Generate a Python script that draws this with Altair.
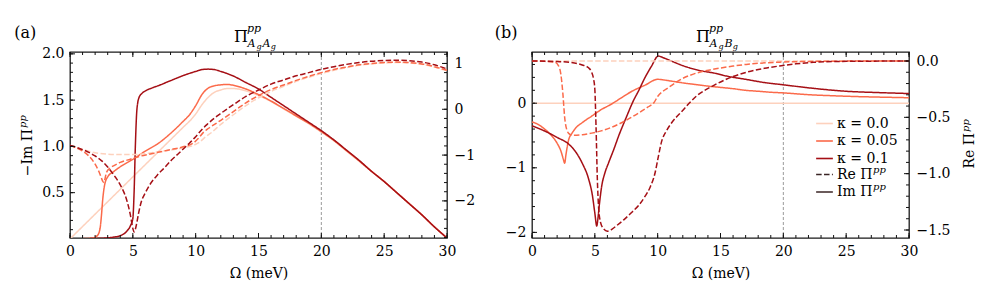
import altair as alt
import pandas as pd

FONT = "DejaVu Serif"
KAPPAS = ["κ = 0.0", "κ = 0.05", "κ = 0.1"]
COLORS = ["#fdd1bd", "#fb6a4a", "#a50f15"]
PARTS = ["Re Π", "Im Π"]
DASHES = [[5.5, 2.4], [1, 0]]

X_MAJOR = [0, 5, 10, 15, 20, 25, 30]
X_MINOR = list(range(0, 31))
VLINE_OMEGA = [20]

A_IM_K0_W = [0, 2, 4, 6, 8, 9, 9.7, 10, 10.5, 11, 11.5, 12, 12.5, 13, 14, 15, 16, 17, 18, 19, 20, 21, 22, 23, 24, 25, 26, 27, 28, 29, 30]
A_IM_K0_V = [0.0, 0.268, 0.536, 0.804, 1.072, 1.206, 1.3, 1.35, 1.45, 1.53, 1.585, 1.61, 1.625, 1.625, 1.6, 1.55, 1.485, 1.405, 1.325, 1.245, 1.155, 1.06, 0.95, 0.84, 0.73, 0.62, 0.5, 0.38, 0.26, 0.13, 0.01]
A_IM_K05_W = [0, 1, 1.8, 2.2, 2.4, 2.5, 2.6, 2.7, 2.8, 3.0, 3.5, 4, 5, 6, 7, 8, 9, 9.5, 10, 10.5, 11, 11.5, 12, 12.5, 13, 14, 15, 16, 17, 18, 19, 20, 21, 22, 23, 24, 25, 26, 27, 28, 29, 30]
A_IM_K05_V = [0.0, 0.003, 0.01, 0.04, 0.12, 0.25, 0.42, 0.54, 0.61, 0.67, 0.73, 0.78, 0.86, 0.95, 1.03, 1.14, 1.27, 1.34, 1.44, 1.56, 1.63, 1.655, 1.665, 1.67, 1.66, 1.62, 1.56, 1.49, 1.41, 1.33, 1.25, 1.16, 1.065, 0.955, 0.845, 0.73, 0.62, 0.5, 0.38, 0.26, 0.13, 0.01]
A_IM_K1_W = [0, 1, 2, 3, 3.5, 4, 4.5, 4.8, 5.0, 5.1, 5.2, 5.3, 5.4, 5.5, 5.7, 6.0, 6.5, 7, 8, 9, 10, 10.5, 11, 11.5, 12, 13, 14, 15, 16, 17, 18, 19, 20, 21, 22, 23, 24, 25, 26, 27, 28, 29, 30]
A_IM_K1_V = [0.0, 0.002, 0.005, 0.012, 0.02, 0.035, 0.08, 0.14, 0.22, 0.5, 1.0, 1.35, 1.48, 1.53, 1.57, 1.6, 1.63, 1.655, 1.71, 1.765, 1.81, 1.83, 1.835, 1.83, 1.81, 1.76, 1.69, 1.62, 1.53, 1.44, 1.35, 1.26, 1.17, 1.07, 0.96, 0.85, 0.73, 0.62, 0.5, 0.38, 0.26, 0.13, 0.01]

A_RE_K0_W = [0, 1, 2, 3, 4, 5, 6, 7, 8, 9, 9.8, 10.3, 10.8, 11.3, 12, 13, 14, 15, 16, 17, 18, 19, 20, 21, 22, 23, 24, 25, 26, 27, 28, 29, 30]
A_RE_K0_V = [-0.79, -0.88, -0.95, -0.98, -0.99, -0.99, -0.97, -0.93, -0.89, -0.84, -0.79, -0.72, -0.6, -0.5, -0.33, -0.12, 0.08, 0.25, 0.39, 0.5, 0.61, 0.7, 0.78, 0.85, 0.91, 0.96, 0.99, 1.01, 1.02, 1.01, 0.98, 0.92, 0.84]
A_RE_K05_W = [0, 0.5, 1, 1.5, 2, 2.3, 2.5, 2.6, 2.7, 2.8, 2.9, 3.2, 3.5, 4, 4.8, 5.5, 6.3, 7, 8, 9, 9.8, 10.2, 10.6, 11, 11.5, 12, 13, 14, 15, 16, 17, 18, 19, 20, 21, 22, 23, 24, 25, 26, 27, 28, 29, 30]
A_RE_K05_V = [-0.79, -0.84, -0.91, -1.02, -1.2, -1.36, -1.5, -1.57, -1.6, -1.5, -1.38, -1.28, -1.23, -1.16, -1.09, -1.03, -0.98, -0.94, -0.88, -0.82, -0.74, -0.64, -0.51, -0.42, -0.33, -0.24, -0.05, 0.14, 0.3, 0.43, 0.53, 0.63, 0.72, 0.8, 0.87, 0.92, 0.97, 1.0, 1.02, 1.03, 1.02, 0.99, 0.93, 0.85]
A_RE_K1_W = [0, 0.5, 1, 1.5, 2, 2.5, 3, 3.5, 4, 4.5, 4.8, 5.0, 5.1, 5.2, 5.3, 5.45, 5.65, 6.0, 6.3, 7, 7.5, 8, 8.7, 9.5, 10, 10.5, 11, 11.5, 12, 13, 14, 15, 16, 17, 18, 19, 20, 21, 22, 23, 24, 25, 26, 27, 28, 29, 30]
A_RE_K1_V = [-0.79, -0.83, -0.88, -0.94, -1.02, -1.12, -1.26, -1.44, -1.65, -1.97, -2.3, -2.6, -2.68, -2.62, -2.5, -2.28, -2.04, -1.82, -1.67, -1.42, -1.28, -1.13, -0.95, -0.74, -0.6, -0.44, -0.31, -0.19, -0.09, 0.1, 0.28, 0.42, 0.55, 0.64, 0.73, 0.8, 0.87, 0.93, 0.98, 1.02, 1.05, 1.065, 1.07, 1.06, 1.03, 0.97, 0.88]

B_IM_K0_W = [0, 30]
B_IM_K0_V = [0.0, 0.0]
B_IM_K05_W = [0, 0.5, 1, 1.5, 2, 2.3, 2.5, 2.6, 2.7, 2.9, 3.2, 3.5, 4, 4.75, 5.5, 6.3, 7, 8, 9, 10, 10.5, 11, 12, 13, 14, 15, 16, 17, 18, 19, 20, 22, 24, 26, 28, 30]
B_IM_K05_V = [-0.29, -0.33, -0.4, -0.49, -0.62, -0.74, -0.87, -0.93, -0.8, -0.58, -0.46, -0.38, -0.3, -0.2, -0.1, -0.016, 0.07, 0.19, 0.28, 0.37, 0.36, 0.345, 0.315, 0.29, 0.265, 0.245, 0.225, 0.2, 0.185, 0.17, 0.16, 0.132, 0.115, 0.102, 0.093, 0.085]
B_IM_K1_W = [0, 1, 2, 2.9, 3.5, 4, 4.5, 4.8, 5.0, 5.15, 5.25, 5.35, 5.55, 5.8, 6.1, 6.5, 6.9, 7.5, 8, 8.5, 9, 9.5, 10.05, 10.5, 11, 11.75, 12.5, 13.5, 14.4, 15.5, 17, 18.5, 20, 22.4, 25, 27.5, 30]
B_IM_K1_V = [-0.35, -0.43, -0.53, -0.63, -0.76, -0.93, -1.17, -1.42, -1.7, -1.9, -1.78, -1.59, -1.28, -1.08, -0.92, -0.72, -0.505, -0.22, 0.01, 0.2, 0.4, 0.57, 0.73, 0.7, 0.66, 0.6, 0.55, 0.5, 0.47, 0.42, 0.37, 0.32, 0.285, 0.23, 0.185, 0.165, 0.15]

B_RE_K0_W = [0, 30]
B_RE_K0_V = [0.0, 0.0]
B_RE_K05_W = [0, 1, 1.8, 2.1, 2.3, 2.45, 2.6, 2.8, 3.0, 3.3, 4, 4.75, 5.5, 6.3, 7, 7.9, 8.5, 9.2, 9.7, 10.03, 10.4, 10.8, 11.9, 13, 14.4, 16, 17.05, 19.7, 22, 25, 30]
B_RE_K05_V = [0.0, -0.003, -0.01, -0.04, -0.12, -0.28, -0.5, -0.62, -0.65, -0.66, -0.655, -0.64, -0.62, -0.59, -0.555, -0.5, -0.46, -0.41, -0.37, -0.31, -0.27, -0.24, -0.16, -0.11, -0.074, -0.045, -0.03, -0.01, -0.004, -0.001, 0.0]
B_RE_K1_W = [0, 2, 3, 4, 4.5, 4.75, 4.9, 5.0, 5.1, 5.2, 5.3, 5.45, 5.7, 6.0, 6.4, 6.75, 7.3, 7.97, 8.5, 9.0, 9.4, 9.8, 10.05, 10.3, 10.7, 11.1, 11.9, 13.1, 14.4, 15.5, 17.05, 18.5, 19.7, 21, 22.4, 25, 30]
B_RE_K1_V = [0.0, -0.005, -0.012, -0.035, -0.06, -0.1, -0.16, -0.25, -0.6, -1.05, -1.3, -1.43, -1.49, -1.51, -1.49, -1.46, -1.41, -1.34, -1.28, -1.2, -1.12, -0.99, -0.85, -0.72, -0.62, -0.55, -0.45, -0.31, -0.22, -0.16, -0.1, -0.065, -0.044, -0.025, -0.012, -0.003, 0.0]

A_LEFT_MAJOR = [0.5, 1.0, 1.5, 2.0]
A_LEFT_MINOR = [round(0.1 * i, 1) for i in range(1, 21)]
A_RIGHT_MAJOR = [-2, -1, 0, 1]
A_RIGHT_MINOR = [round(-2.8 + 0.2 * i, 1) for i in range(0, 21)]
B_LEFT_MAJOR = [-2, -1, 0]
B_LEFT_MINOR = [round(-2.0 + 0.2 * i, 1) for i in range(0, 14)]
B_RIGHT_MAJOR = [-1.5, -1.0, -0.5, 0.0]
B_RIGHT_MINOR = [round(-1.5 + 0.1 * i, 1) for i in range(0, 16)]


def frame(series, part):
    rows = []
    for kappa, (w, v) in zip(KAPPAS, series):
        for wi, vi in zip(w, v):
            rows.append({"omega": wi, "value": vi, "kappa": kappa, "part": part})
    return pd.DataFrame(rows)


A_IM = frame([(A_IM_K0_W, A_IM_K0_V), (A_IM_K05_W, A_IM_K05_V), (A_IM_K1_W, A_IM_K1_V)], PARTS[1])
A_RE = frame([(A_RE_K0_W, A_RE_K0_V), (A_RE_K05_W, A_RE_K05_V), (A_RE_K1_W, A_RE_K1_V)], PARTS[0])
B_IM = frame([(B_IM_K0_W, B_IM_K0_V), (B_IM_K05_W, B_IM_K05_V), (B_IM_K1_W, B_IM_K1_V)], PARTS[1])
B_RE = frame([(B_RE_K0_W, B_RE_K0_V), (B_RE_K05_W, B_RE_K05_V), (B_RE_K1_W, B_RE_K1_V)], PARTS[0])

W, H = 377, 186
MAJ, MIN = 5, 3
TICK_COLOR = "#111111"


def axis(orient, values, **kw):
    d = dict(orient=orient, values=values, ticks=False, domain=False,
             grid=False, labels=True, labelFont=FONT, labelFontSize=14, labelColor="black",
             labelFlush=False, labelOverlap=False, title=None)
    d.update(kw)
    return alt.Axis(**d)


XSCALE = alt.Scale(domain=[0, 30], nice=False, zero=False)


def xenc(ax):
    return alt.X("omega:Q", scale=XSCALE, axis=ax)


def yenc(dom, ax):
    return alt.Y("value:Q", scale=alt.Scale(domain=dom, nice=False, zero=False), axis=ax)


def xticks(values, length, top):
    y1, y2 = (0, length) if top else (H - length, H)
    return alt.Chart(pd.DataFrame({"omega": values})).mark_rule(
        color=TICK_COLOR, strokeWidth=1, opacity=1
    ).encode(x=xenc(None), y=alt.value(y1), y2=alt.value(y2))


def yticks(values, dom, length, right):
    x1, x2 = (W - length, W) if right else (0, length)
    return alt.Chart(pd.DataFrame({"value": values})).mark_rule(
        color=TICK_COLOR, strokeWidth=1, opacity=1
    ).encode(y=yenc(dom, None), x=alt.value(x1), x2=alt.value(x2))


DUMMY = pd.DataFrame({"a": [0]})


def txt(s, x, y, size, italic=False, angle=0, align="left"):
    return alt.Chart(DUMMY).mark_text(
        text=s, align=align, baseline="alphabetic", font=FONT, fontSize=size, angle=angle,
        fontStyle="italic" if italic else "normal", color="black"
    ).encode(x=alt.value(x), y=alt.value(y))


def panel(im, re, ldom, rdom, lmaj, lmin, rmaj, rmin, lfmt, rfmt, letter, second_sub, extra):
    if extra == "b":
        common = dict(orient="none", legendX=283, title=None, symbolType="stroke",
                      symbolSize=280, symbolStrokeWidth=1.6, labelFont=FONT,
                      labelFontSize=14, labelColor="black", rowPadding=0.5, labelOffset=3,
                      padding=0, direction="vertical")
        color_leg = alt.Legend(legendY=62, **common)
        dash_leg = alt.Legend(legendY=113, symbolStrokeColor="#3a2424", **common)
    else:
        color_leg = None
        dash_leg = None
    color = alt.Color("kappa:N", scale=alt.Scale(domain=KAPPAS, range=COLORS), legend=color_leg)
    dash = alt.StrokeDash("part:N", scale=alt.Scale(domain=PARTS, range=DASHES), legend=dash_leg)

    vline = alt.Chart(pd.DataFrame({"omega": VLINE_OMEGA})).mark_rule(
        color="#9a9a9a", strokeWidth=1, strokeDash=[3, 2]
    ).encode(x=xenc(None))

    im_layer = alt.Chart(im).mark_line(strokeWidth=1.5, clip=True, interpolate="monotone").encode(
        x=xenc(axis("bottom", X_MAJOR, format="d", labelPadding=6,
                    title="Ω (meV)", titlePadding=8, titleFont=FONT, titleFontSize=14,
                    titleFontWeight="normal", titleColor="black")),
        y=yenc(ldom, axis("left", lmaj, format=lfmt, labelPadding=6)),
        color=color, strokeDash=dash,
    )
    re_layer = alt.Chart(re).mark_line(strokeWidth=1.5, clip=True, interpolate="monotone").encode(
        x=xenc(None),
        y=yenc(rdom, axis("right", rmaj, format=rfmt, labelPadding=7)),
        color=color, strokeDash=dash,
    )
    ticks = [
        xticks(X_MAJOR, MAJ, False), xticks(X_MINOR, MIN, False),
        xticks(X_MAJOR, MAJ, True), xticks(X_MINOR, MIN, True),
        yticks(lmaj, ldom, MAJ, False), yticks(lmin, ldom, MIN, False),
        yticks(rmaj, rdom, MAJ, True), yticks(rmin, rdom, MIN, True),
    ]
    lx = -55.8 if letter == "(a)" else -37.3
    texts = [
        txt(letter, lx, -14, 16),
        txt("Π", 164, -10, 16),
        txt("pp", 177, -20, 11, True),
        txt("A", 177.4, -5, 11, True),
        txt("g", 186.4, -3, 8, True),
        txt(second_sub, 192.4, -5, 11, True),
        txt("g", 200.7, -3, 8, True),
    ]
    if extra == "a":
        texts += [
            txt("−Im Π", -38.5, 77, 14, angle=270, align="right"),
            txt("pp", -44, 76, 10, True, angle=270, align="left"),
        ]
    else:
        texts += [
            txt("Re Π", 442, 81, 14, angle=270, align="right"),
            txt("pp", 436.5, 80, 10, True, angle=270, align="left"),
            txt("pp", 341, 121, 10, True),
            txt("pp", 341, 138, 10, True),
        ]
    return alt.layer(vline, im_layer, re_layer, *ticks, *texts).resolve_scale(
        y="independent"
    ).resolve_axis(x="independent", y="independent").properties(width=W, height=H)


pa = panel(A_IM, A_RE, [0.01, 2.02], [-2.81, 1.25], A_LEFT_MAJOR, A_LEFT_MINOR,
           A_RIGHT_MAJOR, A_RIGHT_MINOR, ".1f", "d", "(a)", "A", "a")
pb = panel(B_IM, B_RE, [-2.087, 0.793], [-1.571, 0.08], B_LEFT_MAJOR, B_LEFT_MINOR,
           B_RIGHT_MAJOR, B_RIGHT_MINOR, "d", ".1f", "(b)", "B", "b")

chart = alt.hconcat(pa, pb, spacing=18).resolve_scale(
    color="independent", strokeDash="independent"
).properties(
    padding={"left": 5, "top": 14, "right": 5, "bottom": 5}, background="white"
).configure_view(stroke="#1a1a1a", strokeWidth=1.3)

chart.save("out.html", embed_options={"renderer": "svg", "actions": False})
